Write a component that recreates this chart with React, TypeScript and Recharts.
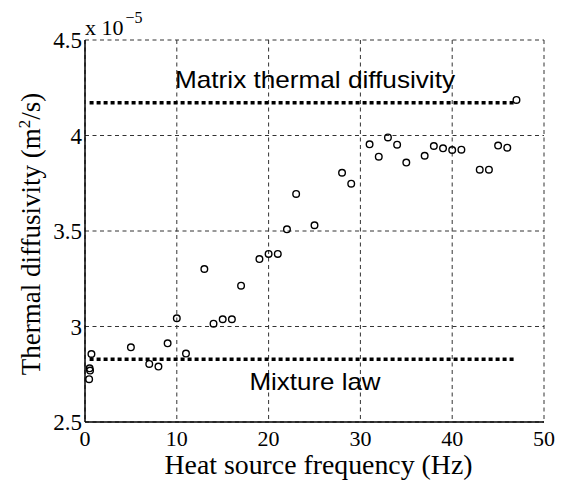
import {
  CartesianGrid,
  ComposedChart,
  Label,
  ReferenceLine,
  Scatter,
  XAxis,
  YAxis,
} from "recharts";

// heat source frequency (Hz) and measured thermal diffusivity (x 1e-5 m^2/s)
const frequency = [
  0.45, 0.5, 0.55, 0.7, 5, 7, 8, 9, 10, 11, 13, 14, 15, 16, 17, 19, 20, 21, 22, 23, 25, 28, 29,
  31, 32, 33, 34, 35, 37, 38, 39, 40, 41, 43, 44, 45, 46, 47,
];
const diffusivity = [
  2.724, 2.781, 2.769, 2.856, 2.891, 2.804, 2.79, 2.912, 3.043, 2.858, 3.301, 3.015, 3.038, 3.038,
  3.214, 3.353, 3.38, 3.38, 3.509, 3.694, 3.53, 3.805, 3.748, 3.954, 3.889, 3.99, 3.952, 3.858,
  3.894, 3.945, 3.933, 3.924, 3.926, 3.821, 3.821, 3.947, 3.936, 4.186,
];

const xTicks = [0, 10, 20, 30, 40, 50];
const yTicks = [2.5, 3, 3.5, 4, 4.5];

const matrixLevel = 4.172;
const mixtureLevel = 2.828;
const refStart = 0.5;
const refEnd = 47;

const points = frequency.map((f, i) => ({ f, d: diffusivity[i] }));

const serif = "'Liberation Serif', 'Times New Roman', serif";
const sans = "'Liberation Sans', Arial, sans-serif";

function OpenCircle(props: any) {
  return <circle cx={props.cx} cy={props.cy} r={3.3} fill="none" stroke="#000" strokeWidth={1.4} />;
}

export default function App() {
  return (
    <div style={{ position: "absolute", left: 0, top: 0, background: "#fff" }}>
      <ComposedChart
        width={561}
        height={483}
        data={points}
        margin={{ top: 40, right: 17, bottom: 31, left: 25 }}
      >
        <CartesianGrid stroke="#333" strokeDasharray="4 3.5" strokeWidth={1} />
        <XAxis
          dataKey="f"
          type="number"
          domain={[0, 50]}
          ticks={xTicks}
          height={30}
          stroke="#000"
          tickLine={false}
          tickSize={0}
          tickMargin={8}
          axisLine={{ stroke: "#000", strokeWidth: 1.5 }}
          tick={{ fill: "#000", fontFamily: serif, fontSize: 22 }}
          allowDataOverflow
        >
          <Label
            content={(p: any) => {
              const vb = p.viewBox;
              return (
                <text
                  x={vb.x + vb.width / 2 + 4}
                  y={474}
                  textAnchor="middle"
                  fontFamily={serif}
                  fontSize={27}
                  fill="#000"
                  textLength={308}
                  lengthAdjust="spacingAndGlyphs"
                >
                  Heat source frequency (Hz)
                </text>
              );
            }}
          />
        </XAxis>
        <XAxis
          xAxisId="top"
          orientation="top"
          type="number"
          domain={[0, 50]}
          height={0}
          tick={false}
          tickLine={false}
          axisLine={{ stroke: "#000", strokeWidth: 1.5 }}
        />
        <YAxis
          dataKey="d"
          type="number"
          domain={[2.5, 4.5]}
          ticks={yTicks}
          width={60}
          stroke="#000"
          tickLine={false}
          tickSize={0}
          tickMargin={3}
          axisLine={{ stroke: "#000", strokeWidth: 1.5 }}
          tick={{ fill: "#000", fontFamily: serif, fontSize: 23 }}
          tickFormatter={(v: number) => String(v)}
          allowDataOverflow
        >
          <Label
            content={(p: any) => {
              const vb = p.viewBox;
              const cy = vb.y + vb.height / 2 + 3;
              return (
                <text
                  x={40}
                  y={cy}
                  transform={`rotate(-90 40 ${cy})`}
                  textAnchor="middle"
                  fontFamily={serif}
                  fontSize={27}
                  fill="#000"
                >
                  Thermal diffusivity (m
                  <tspan dy={-10} fontSize={17}>
                    2
                  </tspan>
                  <tspan dy={10}>/s)</tspan>
                </text>
              );
            }}
          />
          <Label
            content={(p: any) => {
              const vb = p.viewBox;
              const x0 = vb.x + vb.width;
              return (
                <text x={x0} y={vb.y - 5} fontFamily={serif} fontSize={22} fill="#000">
                  x 10
                  <tspan dx={2} dy={-12} fontSize={16}>
                    −5
                  </tspan>
                </text>
              );
            }}
          />
        </YAxis>
        <YAxis
          yAxisId="right"
          orientation="right"
          type="number"
          domain={[2.5, 4.5]}
          width={0}
          tick={false}
          tickLine={false}
          axisLine={{ stroke: "#000", strokeWidth: 1.5 }}
        />
        <ReferenceLine
          segment={[
            { x: refStart, y: matrixLevel },
            { x: refEnd, y: matrixLevel },
          ]}
          stroke="#000"
          strokeWidth={3.5}
          strokeDasharray="4 3"
          label={(p: any) => {
            const vb = p.viewBox;
            return (
              <text
                x={vb.x + vb.width / 2 + 12}
                y={vb.y - 15}
                textAnchor="middle"
                fontFamily={sans}
                fontSize={24}
                fill="#000"
                textLength={280}
                lengthAdjust="spacingAndGlyphs"
              >
                Matrix thermal diffusivity
              </text>
            );
          }}
        />
        <ReferenceLine
          segment={[
            { x: refStart, y: mixtureLevel },
            { x: refEnd, y: mixtureLevel },
          ]}
          stroke="#000"
          strokeWidth={3.5}
          strokeDasharray="4 3"
          label={(p: any) => {
            const vb = p.viewBox;
            return (
              <text
                x={vb.x + vb.width / 2 + 12}
                y={vb.y + 31}
                textAnchor="middle"
                fontFamily={sans}
                fontSize={24}
                fill="#000"
                textLength={131}
                lengthAdjust="spacingAndGlyphs"
              >
                Mixture law
              </text>
            );
          }}
        />
        <Scatter dataKey="d" shape={OpenCircle} isAnimationActive={false} />
      </ComposedChart>
    </div>
  );
}
